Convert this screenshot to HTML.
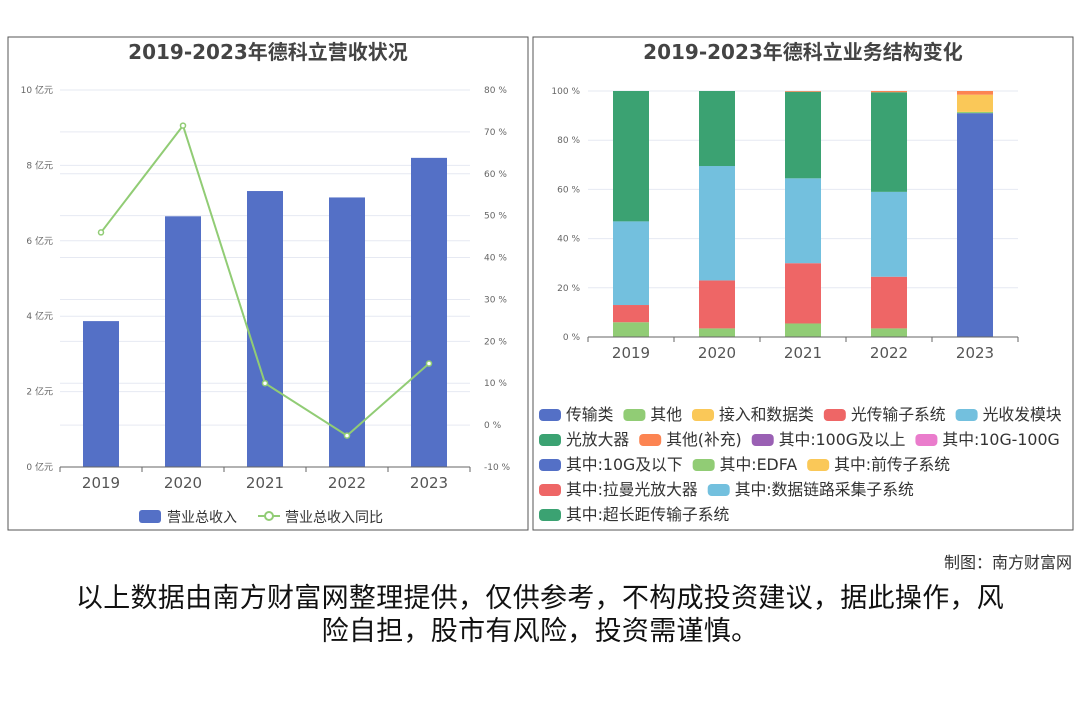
<!DOCTYPE html>
<html><head><meta charset="utf-8"><style>
body{margin:0;background:#fff;width:1080px;height:720px;overflow:hidden;font-family:"DejaVu Sans","Noto Sans CJK SC",sans-serif}
svg text{font-family:"DejaVu Sans","Noto Sans CJK SC",sans-serif}
.note{position:absolute;left:0;width:1080px;text-align:center;font-size:27px;color:#111;font-family:"Liberation Sans","Noto Sans CJK SC",sans-serif;line-height:33px;letter-spacing:0.3px}
</style></head><body>
<svg id="svg" width="1080" height="720" style="position:absolute;left:0;top:0">
<rect x="8" y="37" width="520" height="493" fill="#fff" stroke="#555" stroke-width="1"/>
<rect x="533" y="37" width="540" height="493" fill="#fff" stroke="#555" stroke-width="1"/>
<text x="268" y="59" text-anchor="middle" font-size="20" font-weight="bold" fill="#444">2019-2023年德科立营收状况</text>
<text x="803" y="59" text-anchor="middle" font-size="20" font-weight="bold" fill="#444">2019-2023年德科立业务结构变化</text>
<g id="left"></g><g id="right"></g>
<text x="1072" y="568" text-anchor="end" font-size="16" fill="#333">制图：南方财富网</text>
</svg>
<div class="note" style="top:582px">以上数据由南方财富网整理提供，仅供参考，不构成投资建议，据此操作，风<br>险自担，股市有风险，投资需谨慎。</div>
<script>
const years=['2019','2020','2021','2022','2023'];
const revenue=[3.87,6.65,7.32,7.15,8.2];
const growth=[46,71.5,10,-2.5,14.7];
const leftTicks=[0,2,4,6,8,10];
const rightTicks=[-10,0,10,20,30,40,50,60,70,80];
const seriesNames=['传输类','其他','接入和数据类','光传输子系统','光收发模块','光放大器','其他(补充)'];
const seriesColors=['#5470c6','#91cc75','#fac858','#ee6666','#73c0de','#3ba272','#fc8452'];
const s传输=[0,0,0,0,91];
const s其他=[6,3.5,5.5,3.5,0.5];
const s接入=[0,0,0,0,7];
const s光传输=[7,19.5,24.5,21,0];
const s光收发=[34,46.5,34.5,34.5,0];
const s光放大=[53,30.5,35.2,40.5,0];
const s补充=[0,0,0.3,0.5,1.5];
const pctTicks=[0,20,40,60,80,100];
const legendRows=[['传输类','其他','接入和数据类','光传输子系统','光收发模块'],['光放大器','其他(补充)','其中:100G及以上','其中:10G-100G'],['其中:10G及以下','其中:EDFA','其中:前传子系统'],['其中:拉曼光放大器','其中:数据链路采集子系统'],['其中:超长距传输子系统']];
const legendColors=[['#5470c6','#91cc75','#fac858','#ee6666','#73c0de'],['#3ba272','#fc8452','#9a60b4','#ea7ccc'],['#5470c6','#91cc75','#fac858'],['#ee6666','#73c0de'],['#3ba272']];

const NS='http://www.w3.org/2000/svg';
function mk(p,t,a,txt){const e=document.createElementNS(NS,t);for(const k in a)e.setAttribute(k,a[k]);if(txt!==undefined)e.textContent=txt;p.appendChild(e);return e;}
// LEFT
const L=document.getElementById('left');
const lx0=60,lx1=470,ly0=467,ly1=90;
const yL=v=>ly0-(v/10)*(ly0-ly1);
const yR=v=>ly0-((v+10)/90)*(ly0-ly1);
const bw=(lx1-lx0)/years.length;
const xC=i=>lx0+bw*(i+0.5);
rightTicks.forEach(t=>{const g=mk(L,'line',{x1:lx0,x2:lx1,y1:yR(t),y2:yR(t),stroke:'#e6e9f2'});
 const tx=mk(L,'text',{x:484,y:yR(t)+3,'font-size':9,fill:'#666'},t+' %');});
leftTicks.forEach(t=>{const g=mk(L,'line',{x1:lx0,x2:lx1,y1:yL(t),y2:yL(t),stroke:'#e6e9f2'});
 const tx=mk(L,'text',{x:53,y:yL(t)+3,'font-size':9,fill:'#666','text-anchor':'end'},t+' 亿元');});
revenue.forEach((v,i)=>{const r=mk(L,'rect',{x:xC(i)-18,y:yL(v),width:36,height:yL(0)-yL(v),fill:'#5470c6'});});
const ax=mk(L,'line',{x1:lx0,x2:lx1,y1:ly0,y2:ly0,stroke:'#666'});
for(let i=0;i<=years.length;i++){const t=mk(L,'line',{x1:lx0+bw*i,x2:lx0+bw*i,y1:ly0,y2:ly0+5,stroke:'#666'});}
years.forEach((y,i)=>{const t=mk(L,'text',{x:xC(i),y:488,'font-size':15,fill:'#555','text-anchor':'middle'},y);});
const pl=mk(L,'polyline',{points:growth.map((g,i)=>xC(i)+','+yR(g)).join(' '),fill:'none',stroke:'#91cc75','stroke-width':2});
growth.forEach((g,i)=>{const c=mk(L,'circle',{cx:xC(i),cy:yR(g),r:2.5,fill:'#fff',stroke:'#91cc75','stroke-width':1.5});});
let lg=mk(L,'rect',{x:139,y:510,width:22,height:13,rx:3,fill:'#5470c6'});
lg=mk(L,'text',{x:167,y:522,'font-size':14,fill:'#333'},'营业总收入');
lg=mk(L,'line',{x1:258,x2:280,y1:516,y2:516,stroke:'#91cc75','stroke-width':2});
lg=mk(L,'circle',{cx:269,cy:516,r:4,fill:'#fff',stroke:'#91cc75','stroke-width':2});
lg=mk(L,'text',{x:285,y:522,'font-size':14,fill:'#333'},'营业总收入同比');
// RIGHT
const R=document.getElementById('right');
const rx0=588,rx1=1018,ry0=337,ry1=91;
const yP=v=>ry0-(v/100)*(ry0-ry1);
const rbw=(rx1-rx0)/years.length;
const xR=i=>rx0+rbw*(i+0.5);
pctTicks.forEach(t=>{const g=mk(R,'line',{x1:rx0,x2:rx1,y1:yP(t),y2:yP(t),stroke:'#e6e9f2'});
 const tx=mk(R,'text',{x:580,y:yP(t)+3,'font-size':9,fill:'#666','text-anchor':'end'},t+' %');});
const stacks=[s传输,s其他,s接入,s光传输,s光收发,s光放大,s补充];
years.forEach((y,i)=>{let acc=0;stacks.forEach((s,k)=>{const v=s[i];if(v<=0)return;const r=mk(R,'rect',{x:xR(i)-18,y:yP(acc+v),width:36,height:yP(acc)-yP(acc+v),fill:seriesColors[k]});acc+=v;});});
const ax2=mk(R,'line',{x1:rx0,x2:rx1,y1:ry0,y2:ry0,stroke:'#666'});
for(let i=0;i<=years.length;i++){const t=mk(R,'line',{x1:rx0+rbw*i,x2:rx0+rbw*i,y1:ry0,y2:ry0+5,stroke:'#666'});}
years.forEach((y,i)=>{const t=mk(R,'text',{x:xR(i),y:358,'font-size':15,fill:'#555','text-anchor':'middle'},y);});
// legend
legendRows.forEach((row,ri)=>{let x=539;const y=415+ri*25;row.forEach((n,ci)=>{const sw=mk(R,'rect',{x:x,y:y-6,width:22,height:12,rx:4,fill:legendColors[ri][ci]});
 const t=mk(R,'text',{x:x+27,y:y+5,'font-size':15.8,fill:'#333'},n);
 x+=27+t.getComputedTextLength()+10;});});
</script>
</body></html>
